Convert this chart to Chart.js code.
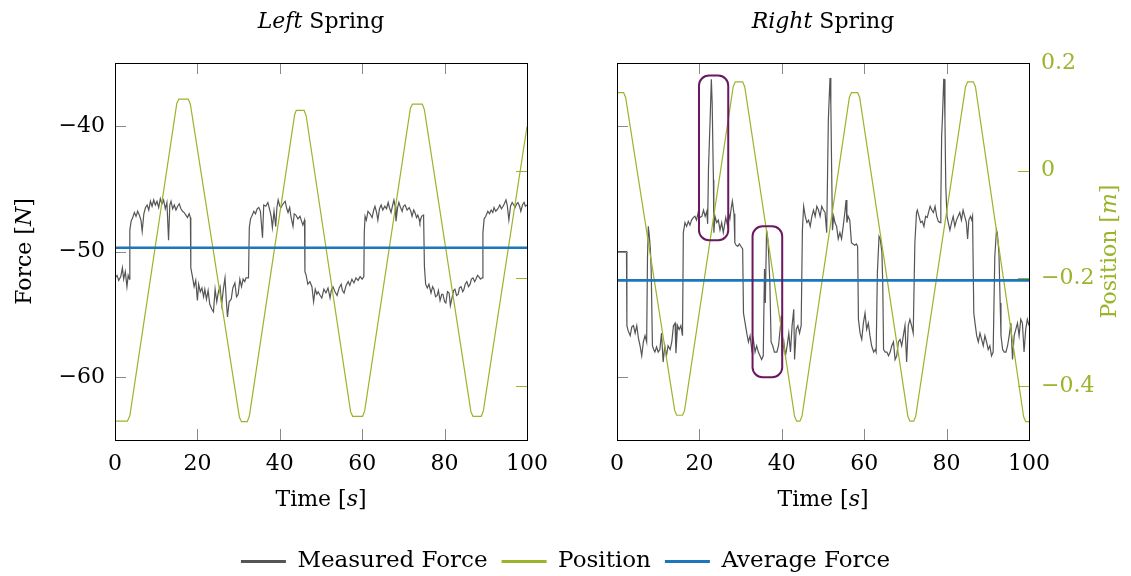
<!DOCTYPE html>
<html>
<head>
<meta charset="utf-8">
<script src="https://cdn.jsdelivr.net/npm/chart.js@4/dist/chart.umd.min.js"></script>
<style>
  html, body { margin: 0; padding: 0; background: #fff; overflow: hidden; }
  #wrap { position: relative; width: 1131px; height: 576px; overflow: hidden; }
  #wrap canvas { position: absolute; left: 0; display: block; }
</style>
</head>
<body>
<div id="wrap">
  <canvas id="leftChart" width="1131" height="576" style="top:0"></canvas>
  <canvas id="rightChart" width="1131" height="576" style="top:0"></canvas>
  <canvas id="legendChart" width="1131" height="60" style="top:536px"></canvas>
</div>
<script>
// ---- data: [time s, value] ----
const timeTicks = [0, 20, 40, 60, 80, 100];
const forceTicks = [-60, -50, -40];
const positionTicks = [-0.4, -0.2, 0, 0.2];

const seriesNames = ["Measured Force", "Position", "Average Force"];

const leftAverage = -49.7;
const rightAverage = -52.3;

const leftForce = [
  [0,-52.1],[0.5,-51.9],[0.9,-52.3],[1.4,-52.0],[1.8,-51.3],[2.1,-52.2],[2.5,-51.6],[2.9,-52.8],[3.2,-51.9],[3.5,-52.2],
  [3.6,-48.3],[3.9,-47.6],[4.3,-47.3],[4.7,-46.9],[5.1,-47.2],[5.5,-46.8],[5.9,-47.1],[6.3,-47.5],[6.6,-48.4],[7.0,-47.0],
  [7.4,-46.5],[7.8,-46.3],[8.2,-46.7],[8.6,-46.0],[9.0,-46.4],[9.4,-45.9],[9.8,-46.3],[10.2,-46.0],[10.6,-46.5],[11.0,-45.8],
  [11.4,-46.2],[11.8,-45.9],[12.2,-46.6],[12.6,-46.1],[13.0,-49.1],[13.3,-46.3],[13.6,-46.0],[14.0,-46.6],[14.4,-46.3],[14.8,-46.7],
  [15.2,-46.4],[15.6,-46.2],[16.0,-46.6],[16.4,-46.8],[16.8,-46.9],[17.2,-47.1],[17.6,-47.3],[18.0,-47.0],[18.3,-47.3],
  [18.4,-51.3],[18.8,-52.0],[19.2,-52.8],[19.6,-52.3],[20.0,-53.9],[20.3,-52.6],[20.7,-53.2],[21.1,-52.9],[21.5,-53.6],[21.8,-53.0],
  [22.2,-53.8],[22.6,-53.1],[23.0,-54.2],[23.5,-54.6],[23.9,-54.8],[24.3,-53.0],[24.7,-54.0],[25.1,-53.2],[25.5,-52.8],[25.9,-54.2],
  [26.3,-53.0],[26.7,-52.1],[27.0,-53.8],[27.3,-55.2],[27.7,-54.0],[28.2,-53.8],[28.6,-52.9],[29.1,-52.5],[29.5,-53.6],[29.9,-53.4],
  [30.3,-52.2],[30.7,-52.8],[31.1,-52.2],[31.5,-52.4],[31.8,-52.1],[32.4,-52.1],
  [32.6,-48.1],[32.9,-47.4],[33.2,-47.2],[33.7,-46.8],[34.1,-47.0],[34.5,-46.6],[34.9,-46.5],[35.3,-46.8],[35.8,-48.9],[36.1,-46.3],
  [36.6,-46.4],[37.1,-46.1],[37.5,-46.6],[37.9,-47.2],[38.2,-48.1],[38.6,-46.8],[39.0,-48.0],[39.3,-46.5],[39.6,-45.9],[40.0,-46.4],
  [40.3,-46.5],[40.8,-46.2],[41.3,-46.0],[41.7,-46.6],[42.0,-46.9],[42.4,-46.5],[42.7,-47.2],[43.2,-48.0],[43.5,-47.0],[43.9,-47.1],
  [44.4,-47.4],[44.9,-47.2],[45.3,-47.6],[45.6,-47.9],[46.0,-47.5],
  [46.1,-51.6],[46.4,-51.9],[46.8,-52.6],[47.3,-52.4],[47.8,-52.8],[48.2,-54.0],[48.6,-53.0],[49.0,-53.4],[49.3,-53.2],[49.8,-53.5],
  [50.2,-53.7],[50.7,-53.0],[51.2,-53.3],[51.7,-52.9],[52.2,-53.7],[52.5,-53.1],[52.9,-52.8],[53.4,-53.2],[53.9,-53.5],[54.4,-52.9],
  [54.9,-52.6],[55.2,-53.1],[55.6,-53.3],[56.1,-52.7],[56.6,-52.4],[57.0,-52.7],[57.5,-52.2],[58.0,-52.5],[58.5,-52.1],[59.0,-52.3],
  [59.5,-52.0],[60.0,-52.2],[60.4,-52.0],
  [60.5,-48.5],[60.7,-47.2],[61.0,-47.5],[61.4,-46.8],[61.9,-47.0],[62.4,-47.3],[62.8,-46.7],[63.1,-46.4],[63.5,-46.9],[63.8,-47.5],
  [64.2,-46.6],[64.6,-46.3],[65.0,-46.7],[65.5,-46.4],[65.9,-46.6],[66.3,-46.1],[66.6,-46.5],[67.0,-46.9],[67.4,-46.3],[67.7,-45.9],
  [68.0,-46.4],[68.2,-47.6],[68.6,-46.5],[68.9,-46.1],[69.3,-46.5],[69.7,-46.8],[70.0,-46.4],[70.4,-46.3],[70.9,-46.7],[71.4,-46.5],
  [71.8,-46.8],[72.1,-47.2],[72.5,-46.7],[72.8,-46.9],[73.2,-47.3],[73.5,-47.1],[73.8,-47.4],[74.0,-47.7],[74.4,-47.2],[74.9,-47.1],
  [75.1,-51.2],[75.4,-52.6],[75.8,-52.9],[76.2,-52.6],[76.7,-53.3],[77.1,-52.8],[77.4,-53.0],[77.8,-53.6],[78.2,-53.5],[78.5,-53.1],
  [78.9,-53.9],[79.3,-53.4],[79.6,-53.4],[80.0,-54.0],[80.3,-54.1],[80.7,-53.2],[81.1,-53.3],[81.4,-54.3],[81.8,-53.7],[82.2,-53.1],
  [82.5,-53.0],[82.9,-53.5],[83.3,-53.4],[83.6,-52.9],[84.0,-52.8],[84.4,-53.2],[84.7,-53.0],[85.0,-52.6],[85.4,-52.4],[85.8,-52.8],
  [86.2,-52.6],[86.5,-52.2],[86.9,-52.1],[87.3,-52.4],[87.6,-52.2],[88.0,-51.9],[88.3,-52.0],[88.7,-52.2],[89.1,-52.1],
  [89.3,-48.5],[89.6,-47.4],[90.0,-47.2],[90.5,-46.8],[90.9,-47.0],[91.3,-46.7],[91.7,-46.9],[92.0,-46.5],[92.4,-46.8],[92.7,-46.7],
  [93.1,-46.5],[93.4,-46.3],[93.8,-46.6],[94.2,-46.4],[94.5,-46.2],[94.9,-45.9],[95.2,-46.3],[95.6,-47.5],[96.0,-46.4],[96.4,-46.1],
  [96.8,-46.3],[97.1,-46.5],[97.5,-46.2],[97.8,-46.1],[98.2,-46.4],[98.5,-46.8],[98.9,-46.3],[99.3,-46.1],[99.6,-46.4],[100,-46.3]
];

const leftPosition = [
  [0,-0.465],[3.0,-0.465],[3.6,-0.455],[15.0,0.125],[15.5,0.133],[17.8,0.133],[18.3,0.123],
  [30.2,-0.458],[30.7,-0.466],[32.1,-0.466],[32.6,-0.456],[43.6,0.104],[44.0,0.112],[45.9,0.112],[46.4,0.102],
  [57.2,-0.448],[57.7,-0.456],[60.1,-0.456],[60.6,-0.446],[71.7,0.116],[72.2,0.1235],[74.6,0.1235],[75.1,0.113],
  [86.4,-0.448],[86.9,-0.456],[88.9,-0.456],[89.4,-0.446],[100,0.082]
];

const rightForce = [
  [0,-50.0],[1.2,-50.0],[2.3,-50.0],
  [2.4,-55.9],[2.7,-56.3],[3.2,-56.7],[3.6,-56.0],[4.0,-55.9],[4.4,-56.5],[4.8,-55.9],[5.2,-56.9],[5.6,-57.5],[6.0,-58.3],
  [6.4,-57.2],[6.8,-56.7],[7.2,-57.2],[7.4,-50.5],[7.6,-48.0],[7.8,-48.6],[8.1,-49.8],[8.3,-51.5],[8.6,-57.5],[8.9,-57.8],
  [9.2,-58.0],[9.6,-57.6],[10.0,-58.0],[10.4,-57.8],[10.8,-56.5],[11.2,-58.8],[11.6,-57.5],[12.0,-58.3],[12.4,-57.5],[12.9,-57.8],
  [13.3,-57.2],[13.7,-55.9],[14.1,-55.7],[14.3,-58.1],[14.7,-55.9],[15.1,-56.2],[15.5,-55.9],[15.9,-56.7],
  [16.1,-48.5],[16.5,-47.7],[16.9,-48.0],[17.3,-47.6],[17.7,-47.9],[18.1,-47.5],[18.5,-47.3],[18.9,-47.2],[19.3,-47.5],[19.7,-46.9],
  [20.1,-47.3],[20.6,-47.2],[21.0,-46.7],[21.4,-47.2],[21.8,-46.8],[22.0,-47.8],[22.2,-43.5],[22.6,-39.5],[22.9,-36.3],[23.1,-38.2],
  [23.4,-44.3],[23.5,-48.5],[23.8,-47.2],[24.2,-47.7],[24.6,-47.5],[25.0,-48.3],[25.4,-47.7],[25.8,-48.5],[26.4,-47.3],[26.8,-47.9],
  [27.1,-47.0],[27.4,-47.4],[27.7,-46.6],[28.0,-46.0],[28.4,-47.0],
  [28.6,-49.3],[28.9,-49.5],[29.3,-49.6],[29.7,-49.4],[30.1,-49.6],[30.5,-49.8],
  [30.7,-54.9],[31.1,-55.7],[31.5,-56.5],[31.9,-57.2],[32.3,-56.7],[32.7,-57.8],[33.1,-57.0],[33.5,-58.0],[33.9,-57.5],[34.3,-58.0],
  [34.7,-58.3],[35.1,-58.6],[35.5,-58.3],[35.8,-51.4],[36.0,-54.1],[36.3,-48.3],[36.6,-49.0],[36.8,-50.1],[37.1,-52.5],[37.4,-57.2],
  [37.8,-57.5],[38.2,-58.0],[38.8,-58.0],[39.2,-57.5],[39.6,-56.2],[39.9,-55.1],[40.1,-58.3],[40.5,-57.2],[40.9,-58.3],[41.3,-57.5],
  [41.7,-56.5],[42.1,-58.0],[42.5,-55.9],[42.9,-54.6],[43.1,-58.6],[43.5,-56.2],[43.9,-55.9],[44.3,-56.5],[44.7,-55.9],
  [45.0,-48.3],[45.3,-46.4],[45.7,-47.2],[46.1,-47.7],[46.5,-47.5],[46.9,-48.0],[47.3,-47.2],[47.7,-46.7],[48.1,-47.2],[48.5,-46.4],
  [48.9,-46.7],[49.3,-47.2],[49.7,-46.4],[50.1,-46.7],[50.5,-46.9],[50.9,-48.5],[51.3,-39.5],[51.7,-36.2],[51.9,-38.2],[52.1,-43.5],
  [52.3,-48.3],[52.6,-47.2],[52.9,-47.7],[53.3,-48.0],[53.7,-49.0],[54.1,-48.5],[54.5,-49.0],[54.9,-48.0],[55.3,-46.9],[55.6,-45.9],
  [55.8,-47.7],[56.1,-47.2],[56.5,-47.5],
  [56.9,-49.3],[57.3,-49.4],[57.7,-49.5],[58.1,-49.4],[58.4,-49.6],
  [58.6,-55.4],[59.0,-56.5],[59.4,-57.0],[59.8,-55.7],[60.2,-54.9],[60.6,-56.2],[61.0,-55.7],[61.4,-56.7],[61.8,-57.5],[62.3,-58.0],
  [62.7,-57.8],[62.9,-58.0],[63.2,-51.7],[63.6,-48.8],[63.9,-49.0],[64.3,-50.1],[64.5,-52.5],[64.7,-57.8],[65.1,-58.0],[65.5,-58.0],
  [65.9,-58.3],[66.3,-58.0],[66.7,-57.5],[67.1,-57.2],[67.5,-58.6],[67.9,-58.3],[68.3,-57.2],[68.7,-57.0],[69.1,-57.5],[69.5,-56.7],
  [69.9,-55.9],[70.3,-58.8],[70.7,-55.9],[71.1,-55.4],[71.5,-55.9],[71.9,-56.5],
  [72.3,-49.3],[72.7,-46.9],[72.9,-46.7],[73.3,-47.2],[73.7,-47.7],[74.1,-47.6],[74.5,-48.0],[74.9,-47.2],[75.3,-47.3],[75.6,-46.9],
  [76.0,-46.4],[76.4,-46.7],[76.8,-46.9],[77.2,-46.4],[77.6,-47.2],[78.0,-47.6],[78.4,-47.7],[78.6,-46.1],[78.8,-40.8],[79.0,-39.3],
  [79.3,-36.3],[79.4,-36.3],[79.6,-39.5],[79.8,-44.8],[80.1,-47.2],[80.4,-47.7],[80.8,-48.3],[81.2,-47.7],[81.6,-47.2],[82.0,-48.0],
  [82.4,-47.5],[82.8,-47.2],[83.2,-46.9],[83.6,-47.5],[84.0,-46.7],[84.4,-47.2],[84.8,-47.7],[85.1,-49.0],[85.4,-47.5],[85.8,-47.2],
  [86.1,-47.5],[86.3,-47.2],
  [86.6,-54.9],[86.9,-55.7],[87.3,-56.7],[87.7,-57.2],[88.1,-56.5],[88.5,-57.0],[88.9,-57.5],[89.3,-56.7],[89.7,-57.2],[90.1,-57.8],
  [90.5,-57.5],[90.9,-58.3],[91.3,-58.0],[91.7,-50.4],[92.1,-48.3],[92.3,-48.5],[92.7,-50.1],[93.0,-54.1],[93.2,-56.7],[93.6,-57.8],
  [94.0,-58.0],[94.4,-58.0],[94.8,-57.5],[95.2,-56.7],[95.6,-55.7],[96.0,-58.6],[96.4,-56.7],[96.8,-56.2],[97.2,-55.7],[97.6,-56.7],
  [98.0,-55.4],[98.4,-55.7],[98.8,-58.0],[99.2,-56.2],[99.6,-55.4],[100,-55.9]
];

const rightPosition = [
  [0,0.145],[1.6,0.145],[2.1,0.136],[14.0,-0.445],[14.5,-0.454],[15.9,-0.454],[16.4,-0.445],
  [28.2,0.156],[28.7,0.165],[30.5,0.165],[31.0,0.156],[43.1,-0.456],[43.6,-0.465],[44.4,-0.465],[44.9,-0.456],
  [56.4,0.136],[56.9,0.145],[58.4,0.145],[58.9,0.136],[70.6,-0.456],[71.1,-0.465],[72.0,-0.465],[72.5,-0.456],
  [84.6,0.156],[85.1,0.165],[86.5,0.165],[87.0,0.156],[98.7,-0.457],[99.2,-0.466],[100,-0.466]
];

// highlighted regions on the right panel, in data units (time, force)
const highlights = [
  { t0: 19.9, t1: 27.0, f0: -49.1, f1: -36.0 },
  { t0: 32.9, t1: 40.1, f0: -60.0, f1: -48.0 }
];

// ---- styling ----
const GRAY = "#555555";
const GREEN = "#9AB42B";
const BLUE = "#1B76BA";
const PURPLE = "#6B1860";
const TICK_GRAY = "#8a8a8a";
const FAMILY = '"DejaVu Serif", serif';
const SIZE = 22;
const LEGEND_SIZE = 23;
const W = 1131, H = 576;
const AREA = { top: 63, bottom: 440 };

const minus = v => String(v).replace("-", "\u2212");
const toPoints = arr => arr.map(([x, y]) => ({ x, y }));
const setTicks = list => scale => { scale.ticks = list.map(value => ({ value })); };

function drawRich(ctx, parts, cx, cy, angle, color) {
  ctx.save();
  ctx.translate(cx, cy);
  ctx.rotate(angle);
  ctx.fillStyle = color;
  ctx.textBaseline = "middle";
  const fonts = parts.map(([, style]) => `${style} ${SIZE}px ${FAMILY}`);
  let width = 0;
  parts.forEach(([text], i) => { ctx.font = fonts[i]; width += ctx.measureText(text).width; });
  let x = -width / 2;
  parts.forEach(([text], i) => {
    ctx.font = fonts[i];
    ctx.fillText(text, x, 0);
    x += ctx.measureText(text).width;
  });
  ctx.restore();
}

const labelsPlugin = labels => ({
  id: "richLabels",
  afterDraw(chart) {
    const a = chart.chartArea;
    labels.forEach(l => {
      const cx = l.x === "center" ? (a.left + a.right) / 2 : l.x;
      const cy = l.y === "middle" ? (a.top + a.bottom) / 2 : l.y;
      drawRich(chart.ctx, l.parts, cx, cy, l.angle || 0, l.color || "#000");
    });
  }
});

// pgfplots-like frame with inward ticks
const framePlugin = {
  id: "frame",
  afterDatasetsDraw(chart) {
    const { ctx, chartArea: { left, right, top, bottom }, scales } = chart;
    const len = 11;
    const seg = (x0, y0, x1, y1) => { ctx.beginPath(); ctx.moveTo(x0, y0); ctx.lineTo(x1, y1); ctx.stroke(); };
    ctx.save();
    ctx.lineWidth = 1;
    ctx.strokeStyle = TICK_GRAY;
    scales.x.ticks.forEach(t => {
      const px = Math.round(scales.x.getPixelForValue(t.value)) + 0.5;
      seg(px, bottom, px, bottom - len);
      seg(px, top, px, top + len);
    });
    scales.y.ticks.forEach(t => {
      const py = Math.round(scales.y.getPixelForValue(t.value)) + 0.5;
      seg(left, py, left + len, py);
    });
    ctx.strokeStyle = GREEN;
    scales.y1.ticks.forEach(t => {
      const py = Math.round(scales.y1.getPixelForValue(t.value)) + 0.5;
      seg(right, py, right - len, py);
    });
    ctx.strokeStyle = "#000";
    ctx.strokeRect(Math.round(left) + 0.5, Math.round(top) + 0.5, Math.round(right - left), Math.round(bottom - top));
    ctx.restore();
  }
};

const highlightPlugin = {
  id: "highlights",
  afterDatasetsDraw(chart, args, opts) {
    const { ctx, scales: { x, y } } = chart;
    ctx.save();
    ctx.strokeStyle = PURPLE;
    ctx.lineWidth = 2;
    (opts.boxes || []).forEach(b => {
      const l = x.getPixelForValue(b.t0), r = x.getPixelForValue(b.t1);
      const t = y.getPixelForValue(b.f1), btm = y.getPixelForValue(b.f0);
      ctx.beginPath();
      ctx.roundRect(l, t, r - l, btm - t, 10);
      ctx.stroke();
    });
    ctx.restore();
  }
};

function buildPanel(id, p) {
  const font = { family: FAMILY, size: SIZE };
  const noGrid = { display: false, drawTicks: false };
  return new Chart(id, {
    type: "line",
    data: {
      datasets: [
        {
          label: seriesNames[2],
          data: [{ x: timeTicks[0], y: p.average }, { x: timeTicks[timeTicks.length - 1], y: p.average }],
          borderColor: BLUE, borderWidth: 2.6, yAxisID: "y", order: 0
        },
        { label: seriesNames[1], data: toPoints(p.position), borderColor: GREEN, borderWidth: 1.2, yAxisID: "y1", order: 1 },
        { label: seriesNames[0], data: toPoints(p.force), borderColor: GRAY, borderWidth: 1.2, yAxisID: "y", order: 2 }
      ]
    },
    options: {
      responsive: false,
      animation: false,
      devicePixelRatio: 1,
      events: [],
      elements: { point: { radius: 0 }, line: { tension: 0, fill: false } },
      layout: { padding: { top: AREA.top, left: 0, right: 0, bottom: 0 } },
      scales: {
        x: {
          type: "linear", min: 0, max: 100,
          afterBuildTicks: setTicks(timeTicks),
          afterFit: s => { s.height = H - AREA.bottom; },
          grid: noGrid, border: { display: false },
          ticks: { font, color: "#000", padding: 11, maxRotation: 0 }
        },
        y: {
          position: "left", min: -65, max: -35,
          afterBuildTicks: setTicks(forceTicks),
          afterFit: s => { s.width = p.left; },
          grid: noGrid, border: { display: false },
          ticks: { display: p.showForce, font, color: "#000", padding: 10, callback: minus }
        },
        y1: {
          position: "right", min: -0.5, max: 0.2,
          afterBuildTicks: setTicks(positionTicks),
          afterFit: s => { s.width = W - p.right; },
          grid: noGrid, border: { display: false },
          ticks: { display: p.showPosition, font, color: GREEN, padding: 12, callback: minus }
        }
      },
      plugins: {
        legend: { display: false },
        tooltip: { enabled: false },
        highlights: { boxes: p.boxes || [] }
      }
    },
    plugins: [framePlugin, highlightPlugin, labelsPlugin(p.labels)]
  });
}

buildPanel("leftChart", {
  force: leftForce, position: leftPosition, average: leftAverage,
  left: 115, right: 527, showForce: true, showPosition: false,
  labels: [
    { parts: [["Left", "italic"], [" Spring", "normal"]], x: "center", y: 22 },
    { parts: [["Time [", "normal"], ["s", "italic"], ["]", "normal"]], x: "center", y: 500 },
    { parts: [["Force [", "normal"], ["N", "italic"], ["]", "normal"]], x: 25, y: "middle", angle: -Math.PI / 2 }
  ]
});

buildPanel("rightChart", {
  force: rightForce, position: rightPosition, average: rightAverage,
  left: 617, right: 1029, showForce: false, showPosition: true, boxes: highlights,
  labels: [
    { parts: [["Right", "italic"], [" Spring", "normal"]], x: "center", y: 22 },
    { parts: [["Time [", "normal"], ["s", "italic"], ["]", "normal"]], x: "center", y: 500 },
    { parts: [["Position [", "normal"], ["m", "italic"], ["]", "normal"]], x: 1110, y: "middle", angle: -Math.PI / 2, color: GREEN }
  ]
});

// shared legend under both panels
new Chart("legendChart", {
  type: "line",
  data: {
    datasets: seriesNames.map((label, i) => ({
      label, data: [], borderWidth: 0,
      backgroundColor: [GRAY, GREEN, BLUE][i], borderColor: [GRAY, GREEN, BLUE][i]
    }))
  },
  options: {
    responsive: false,
    animation: false,
    devicePixelRatio: 1,
    events: [],
    layout: { padding: 0 },
    scales: { x: { display: false }, y: { display: false } },
    plugins: {
      tooltip: { enabled: false },
      legend: {
        position: "top",
        maxHeight: 60,
        labels: { boxWidth: 45, boxHeight: 3, padding: 14, color: "#000", font: { family: FAMILY, size: LEGEND_SIZE } }
      }
    }
  }
});
</script>
</body>
</html>
